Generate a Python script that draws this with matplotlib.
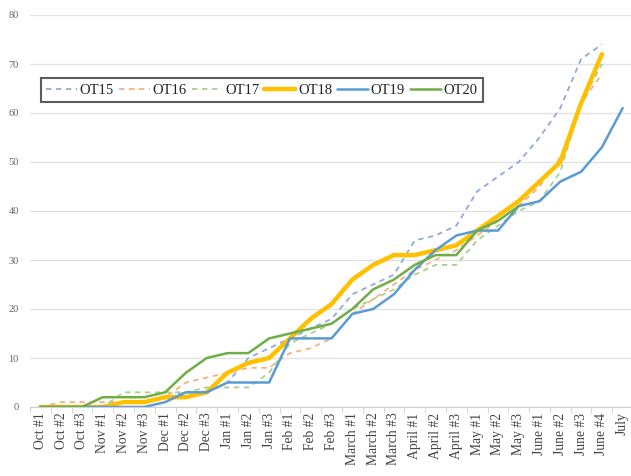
import numpy as np
import matplotlib
matplotlib.use("Agg")
import matplotlib.pyplot as plt

cats = ["Oct #1", "Oct #2", "Oct #3", "Nov #1", "Nov #2", "Nov #3",
        "Dec #1", "Dec #2", "Dec #3", "Jan #1", "Jan #2", "Jan #3",
        "Feb #1", "Feb #2", "Feb #3", "March #1", "March #2", "March #3",
        "April #1", "April #2", "April #3", "May #1", "May #2", "May #3",
        "June #1", "June #2", "June #3", "June #4", "July"]

ot15 = [0, 0, 0, 0, 1, 1, 2, 3, 3, 5, 10, 12, 14, 16, 18, 23, 25, 27,
        34, 35, 37, 44, 47, 50, 55, 61, 71, 74]
ot16 = [0, 1, 1, 1, 1, 1, 2, 5, 6, 7, 8, 8, 11, 12, 14, 19, 22, 25,
        28, 30, 32, 35, 38, 41, 45, 51, 62, 68]
ot17 = [0, 0, 0, 0, 3, 3, 3, 3, 4, 4, 4, 7, 13, 15, 17, 20, 22, 24,
        27, 29, 29, 34, 37, 40, 42, 48, 62, 70]
ot18 = [0, 0, 0, 0, 1, 1, 2, 2, 3, 7, 9, 10, 14, 18, 21, 26, 29, 31,
        31, 32, 33, 36, 39, 42, 46, 50, 62, 72]
ot19 = [0, 0, 0, 0, 0, 0, 1, 3, 3, 5, 5, 5, 14, 14, 14, 19, 20, 23,
        28, 32, 35, 36, 36, 41, 42, 46, 48, 53, 61]
ot20 = [0, 0, 0, 2, 2, 2, 3, 7, 10, 11, 11, 14, 15, 16, 17, 20, 24, 26,
        29, 31, 31, 36, 38, 41]

series = [
    ("OT15", ot15, "#8faadc", 1.3, (0, (3, 2.5))),
    ("OT16", ot16, "#f4b183", 1.3, (0, (3, 2.5))),
    ("OT17", ot17, "#a9d18e", 1.3, (0, (3, 2.5))),
    ("OT18", ot18, "#ffc000", 3.2, "-"),
    ("OT19", ot19, "#5b9bd5", 1.8, "-"),
    ("OT20", ot20, "#70ad47", 1.8, "-"),
]

plt.rcParams['font.family'] = ['Liberation Serif', 'DejaVu Serif']

fig = plt.figure(figsize=(6.31, 4.76), dpi=100)
ax = fig.add_axes([30 / 631, 1 - 407 / 476, 601 / 631, 392 / 476])

for name, vals, col, lw, ls in series:
    x = np.arange(len(vals))
    ax.plot(x, vals, color=col, lw=lw, ls=ls, label=name,
            solid_joinstyle='round', solid_capstyle='round')

ax.set_xlim(-0.5, 28.4)
ax.set_ylim(0, 80)
ax.set_yticks(range(0, 81, 10))
ax.yaxis.grid(True, color='#e3e3e3', lw=1)
ax.set_axisbelow(True)
ax.tick_params(axis='y', length=0, pad=8, labelsize=7.5, labelcolor='#666666')

ax.set_xticks(range(len(cats)))
ax.set_xticklabels(cats, rotation=90, fontsize=9.8, color='#444444')
ax.set_xticks(np.arange(-0.5, 28.5, 1), minor=True)
ax.tick_params(axis='x', which='major', length=0, pad=4)
ax.tick_params(axis='x', which='minor', length=4, color='#d0d0d0')

for s in ['top', 'right', 'left']:
    ax.spines[s].set_visible(False)
ax.spines['bottom'].set_color('#d0d0d0')

leg = ax.legend(loc='upper left', bbox_to_anchor=(0.006, 0.857), ncol=6,
                fontsize=10.5, frameon=True, fancybox=False, handlelength=2.1,
                columnspacing=0.35, handletextpad=0.2, borderpad=0.35)
leg.get_frame().set_edgecolor('#333333')
leg.get_frame().set_linewidth(1.5)
for t in leg.get_texts():
    t.set_color('#222222')

fig.savefig("out.png", dpi=100)
